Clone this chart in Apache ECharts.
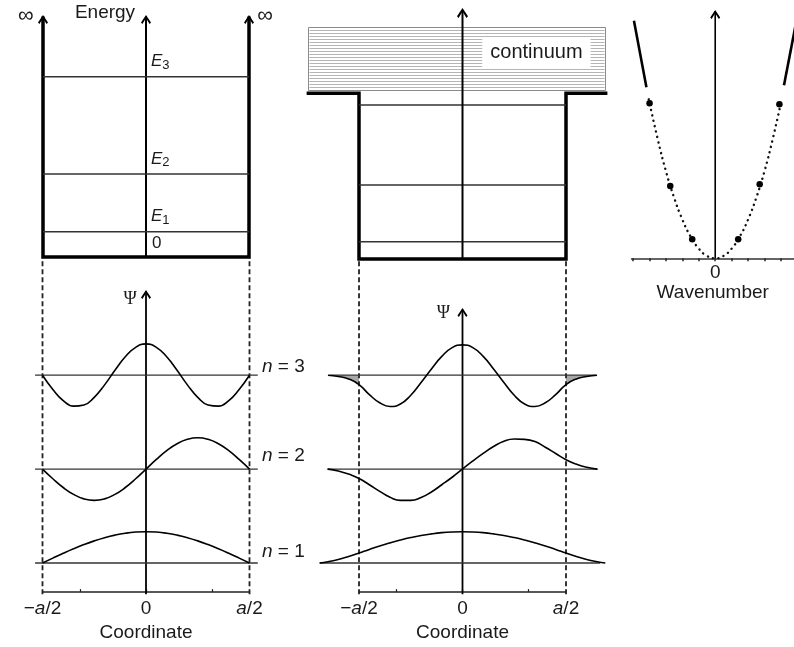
<!DOCTYPE html>
<html><head><meta charset="utf-8">
<script src="https://cdn.jsdelivr.net/npm/echarts@6/dist/echarts.min.js"></script>
<style>html,body{margin:0;padding:0;background:#fff}#c{width:794px;height:647px}</style>
</head><body><div id="c"></div>
<script>
// ================= DATA =================
// Infinite well (top left): energy levels E1..E3 in energy units
const infLevels = [1.01, 3.32, 7.21];
const infLevelNames = ['1', '2', '3'];
const infWallTop = 9.62;
// Finite well (top middle)
const finLevels = [0.69, 2.96, 6.16];
const finRim = 6.63;
const finLedges = [-0.753, 0.70];
const continuumBand = [-0.746, 0.688, 6.76, 9.28]; // x0, x1, y0, y1
const continuumText = 'continuum';
// Dispersion (top right): wavenumber (tick units) vs energy
const dispK = [-4.05, -3.5, -3, -2.5, -2, -1.5, -1, -0.5, 0, 0.5, 1, 1.5, 2, 2.5, 3, 3.5, 4.05];
const dispE = [15.9, 11.9, 8.7, 6.05, 3.87, 2.18, 0.97, 0.24, 0, 0.24, 0.97, 2.18, 3.87, 6.05, 8.7, 11.9, 15.9];
const dispBigK = [-4.0, -2.74, -1.4, 1.4, 2.71, 3.91];
const dispBigE = [15.5, 7.23, 1.9, 1.9, 7.4, 15.4];
const dispSolidLeftK = [-4.95, -4.19];
const dispSolidLeftE = [23.76, 17.1];
const dispSolidRightK = [4.19, 4.95];
const dispSolidRightE = [17.3, 23.76];
const dispTicks = [-5, -4, -3, -2, -1, 0, 1, 2, 3, 4];
const dispLabels = [0];
// Wavefunctions, infinite well (bottom left)
const xInf = [-0.5, -0.45, -0.4, -0.35, -0.3, -0.25, -0.2, -0.15, -0.1, -0.05, 0, 0.05, 0.1, 0.15, 0.2, 0.25, 0.3, 0.35, 0.4, 0.45, 0.5];
const psiInf1 = [0, 0.156, 0.309, 0.454, 0.588, 0.707, 0.809, 0.891, 0.951, 0.988, 1, 0.988, 0.951, 0.891, 0.809, 0.707, 0.588, 0.454, 0.309, 0.156, 0];
const psiInf2 = [0, -0.309, -0.588, -0.809, -0.951, -1, -0.951, -0.809, -0.588, -0.309, 0, 0.309, 0.588, 0.809, 0.951, 1, 0.951, 0.809, 0.588, 0.309, 0];
const psiInf3 = [0, -0.454, -0.809, -0.988, -0.951, -0.707, -0.309, 0.156, 0.588, 0.891, 1, 0.891, 0.588, 0.156, -0.309, -0.707, -0.951, -0.988, -0.809, -0.454, 0];
const infBaselines = [[-0.536, 0.54], [-0.536, 0.54], [-0.536, 0.54]];
// Wavefunctions, finite well (bottom middle)
const xFin = [-0.69, -0.65, -0.6, -0.55, -0.5, -0.45, -0.4, -0.35, -0.3, -0.25, -0.2, -0.15, -0.1, -0.05, 0, 0.05, 0.1, 0.15, 0.2, 0.25, 0.3, 0.35, 0.4, 0.45, 0.5, 0.55, 0.6, 0.65, 0.69];
const psiFin1 = [0, 0.04, 0.11, 0.21, 0.32, 0.435, 0.544, 0.643, 0.733, 0.812, 0.878, 0.93, 0.969, 0.992, 1, 0.992, 0.969, 0.93, 0.878, 0.812, 0.733, 0.643, 0.544, 0.435, 0.32, 0.21, 0.11, 0.04, 0];
const psiFin2 = [null, 0, -0.06, -0.16, -0.3, -0.5, -0.71, -0.9, -1.0, -1.0, -0.91, -0.73, -0.5, -0.26, 0, 0.26, 0.5, 0.72, 0.89, 0.96, 0.95, 0.88, 0.7, 0.5, 0.3, 0.16, 0.06, 0, null];
const psiFin3 = [null, 0, -0.04, -0.12, -0.3, -0.62, -0.88, -1.0, -0.92, -0.64, -0.23, 0.2, 0.6, 0.88, 0.97, 0.88, 0.6, 0.2, -0.23, -0.64, -0.92, -1.0, -0.88, -0.62, -0.3, -0.12, -0.04, 0, null];
const finBaselines = [[-0.69, 0.664], [-0.655, 0.655], [-0.64, 0.645]];
const stateOffsets = [0, 3, 6];
const stateNames = ['1', '2', '3'];
const coordTicks = [-0.32, 0, 0.32];
const coordLabelVals = [-0.5, 0, 0.5];
const coordLabels = ['−a/2', '0', 'a/2'];

// ================= CHART =================
const FONT = 'Liberation Sans, Arial, sans-serif';
const TXT = '#1a1a1a';
const CHEV = 'path://M5,0 L10,7.5 L8.6,9 L5,3.2 L1.4,9 L0,7.5 Z';
const zip = (xs, ys) => xs.map((x, i) => [x, ys[i]]);

function line(g, data, style, extra) {
  return Object.assign({
    type: 'line', xAxisIndex: g, yAxisIndex: g, data: data, symbol: 'none', silent: true, clip: false,
    lineStyle: Object.assign({ color: '#000', width: 1.5 }, style), z: 3
  }, extra || {});
}
function arrows(g, pts, size) {
  return { type: 'scatter', xAxisIndex: g, yAxisIndex: g, data: pts, symbol: CHEV, clip: false,
    symbolSize: size || [10, 9], symbolOffset: [0, '50%'], itemStyle: { color: '#000', opacity: 1 }, silent: true, z: 6 };
}
function texts(g, items) {
  return { type: 'scatter', xAxisIndex: g, yAxisIndex: g, symbolSize: 0, silent: true, z: 8, clip: false,
    itemStyle: { opacity: 1 },
    data: items.map(it => ({ value: it.at, label: Object.assign({ show: true, position: 'inside',
      formatter: it.text, color: TXT, fontFamily: FONT, fontSize: 19 }, it.label || {}) })) };
}

const series = [];
// ---- G0 infinite well ----
series.push(line(0, [[-0.5, infWallTop], [-0.5, 0], [0.5, 0], [0.5, infWallTop]], { width: 3.5, join: 'miter' }));
series.push(line(0, [[0, 0], [0, infWallTop]], { width: 2 }));
series.push(arrows(0, [[-0.5, 9.68], [0, 9.68], [0.5, 9.68]]));
infLevels.forEach(E => series.push(line(0, [[-0.5, E], [0.5, E]], { color: '#333', width: 1.3 })));
series.push(texts(0, [
  { at: [-0.199, 9.78], text: 'Energy' },
  { at: [-0.583, 9.65], text: '∞', label: { fontSize: 22 } },
  { at: [0.578, 9.65], text: '∞', label: { fontSize: 22 } },
  { at: [0, 0], text: '0', label: { position: [6, -22], fontSize: 17 } }
].concat(infLevels.map((E, i) => ({
  at: [0, E], text: '{e|E}{s|' + infLevelNames[i] + '}',
  label: { position: [5, -25], rich: {
    e: { fontStyle: 'italic', fontSize: 17, lineHeight: 20, fontFamily: FONT, color: TXT },
    s: { fontSize: 13, lineHeight: 8, verticalAlign: 'bottom', fontFamily: FONT, color: TXT } } }
})))));

// ---- G1 finite well ----
series.push({
  type: 'custom', xAxisIndex: 1, yAxisIndex: 1, silent: true, z: 2,
  data: [continuumBand], encode: { x: [0, 1], y: [2, 3] },
  renderItem: (params, api) => {
    const tl = api.coord([api.value(0), api.value(3)]);
    const br = api.coord([api.value(1), api.value(2)]);
    const x0 = Math.round(tl[0]) + 0.5, y0 = Math.round(tl[1]) + 0.5;
    const x1 = Math.round(br[0]) + 0.5, y1 = Math.round(br[1]) + 0.5;
    const ch = [{ type: 'rect', shape: { x: x0, y: y0, width: x1 - x0, height: y1 - y0 },
      style: { fill: '#fff', stroke: '#8a8a8a', lineWidth: 1 } }];
    for (let y = y0 + 3; y < y1 - 1; y += 3) {
      ch.push({ type: 'line', shape: { x1: x0 + 1, y1: y, x2: x1 - 1, y2: y }, style: { stroke: '#b5b5b5', lineWidth: 1 } });
    }
    return { type: 'group', children: ch };
  }
});
series.push(line(1, [[finLedges[0], finRim], [-0.5, finRim], [-0.5, 0], [0.5, 0], [0.5, finRim], [finLedges[1], finRim]], { width: 3.5, join: 'miter' }));
finLevels.forEach(E => series.push(line(1, [[-0.5, E], [0.5, E]], { color: '#333', width: 1.3 })));
series.push(line(1, [[0, 0], [0, 9.96]], { width: 2 }, { z: 7 }));
series.push(arrows(1, [[0, 10.04]], [11, 10]));
series.push(texts(1, [
  { at: [0.357, 8.26], text: continuumText, label: { fontSize: 20, backgroundColor: '#fff', padding: [5, 8, 4, 8] } }
]));

// ---- G2 dispersion ----
series.push(line(2, [[0, 0], [0, 24.7]], { width: 1.6 }));
series.push(arrows(2, [[0, 24.83]], [10, 9]));
series.push(line(2, zip(dispK, dispE), { width: 2.4, type: [0.1, 5.4], cap: 'round', color: '#111' }, { smooth: true }));
series.push({ type: 'scatter', xAxisIndex: 2, yAxisIndex: 2, data: zip(dispBigK, dispBigE), symbol: 'circle', symbolSize: 6.5,
  itemStyle: { color: '#000', opacity: 1 }, silent: true, z: 5 });
series.push(line(2, zip(dispSolidLeftK, dispSolidLeftE), { width: 2.6 }, { clip: true }));
series.push(line(2, zip(dispSolidRightK, dispSolidRightE), { width: 2.6 }, { clip: true }));

// ---- G3 / G4 wavefunctions (wide grids); G5 / G6 coordinate axes ----
function wavePanel(g, psis, xs, baselines, arrowTop, psiAt) {
  series.push(line(g, [[-0.5, -1], [-0.5, 9.75]], { width: 1.8, type: [5, 3], color: '#222' }));
  series.push(line(g, [[0.5, -1], [0.5, 9.75]], { width: 1.8, type: [5, 3], color: '#222' }));
  series.push(line(g, [[0, -1], [0, arrowTop - 0.05]], { width: 1.8 }));
  series.push(arrows(g, [[0, arrowTop]], [10, 9]));
  stateOffsets.forEach((off, i) => {
    series.push(line(g, [[baselines[i][0], off], [baselines[i][1], off]], { color: '#333', width: 1.3 }));
    const pts = [];
    xs.forEach((x, j) => { if (psis[i][j] !== null) pts.push([x, off + psis[i][j]]); });
    series.push(line(g, pts, { width: 1.6 }, { smooth: true, z: 4 }));
  });
  series.push(texts(g, [{ at: psiAt, text: 'Ψ', label: { fontFamily: 'Liberation Serif, serif', fontSize: 18 } }]));
}
wavePanel(3, [psiInf1, psiInf2, psiInf3], xInf, infBaselines, 8.72, [-0.077, 8.43]);
wavePanel(4, [psiFin1, psiFin2, psiFin3], xFin, finBaselines, 8.15, [-0.092, 7.99]);
// hatched tails of n = 3 in finite well
[[0, 4], [24, 28]].forEach(r => {
  const pts = [];
  for (let j = r[0]; j <= r[1]; j++) if (psiFin3[j] !== null) pts.push([xFin[j], stateOffsets[2] + psiFin3[j]]);
  series.push(line(4, pts, { width: 0 }, { smooth: true, z: 2,
    areaStyle: { color: '#a8a8a8', origin: stateOffsets[2], opacity: 1 } }));
});
// n labels
series.push(texts(3, stateOffsets.map((off, i) => ({
  at: [0.56, [0.36, 3.42, 6.27][i]], text: '{i|n} = ' + stateNames[i],
  label: { position: 'right', distance: 0, rich: { i: { fontStyle: 'italic', fontSize: 19, fontFamily: FONT, color: TXT } } }
}))));
// dummy series so axis grids are used
[5, 6].forEach(g => series.push({ type: 'line', xAxisIndex: g, yAxisIndex: g, data: [], silent: true }));

function coordAxis(g, nameGap) {
  return { type: 'value', gridIndex: g, min: -0.5, max: 0.5,
    axisLine: { onZero: false, lineStyle: { color: '#222', width: 1.5 } },
    axisTick: { show: true, customValues: coordTicks, inside: true, length: 3, lineStyle: { color: '#222', width: 1.2 } },
    axisLabel: { customValues: coordLabelVals, margin: 7, fontSize: 19, fontFamily: FONT, color: TXT,
      formatter: v => { const i = coordLabelVals.indexOf(v); return i < 0 ? '' : coordLabels[i].replace('a', '{i|a}'); },
      rich: { i: { fontStyle: 'italic', fontSize: 19, fontFamily: FONT, color: TXT } } },
    splitLine: { show: false },
    name: 'Coordinate', nameLocation: 'middle', nameGap: nameGap,
    nameTextStyle: { fontSize: 19, fontFamily: FONT, color: TXT } };
}
const hiddenX = (g, min, max) => ({ type: 'value', gridIndex: g, min, max, show: false });
const hiddenY = (g, min, max) => ({ type: 'value', gridIndex: g, min, max, show: false });

const option = {
  animation: false,
  backgroundColor: '#fff',
  grid: [
    { left: 43, width: 206, top: 7, height: 250 },
    { left: 296.9, width: 331.2, top: 4, height: 255 },
    { left: 631.5, width: 165.3, top: 8.3, height: 250 },
    { left: 21.8, width: 289.8, top: 250, height: 344.3 },
    { left: 307.25, width: 310.5, top: 250, height: 344.3 },
    { left: 42.5, width: 207, top: 250, height: 344.3 },
    { left: 359, width: 207, top: 250, height: 344.3 }
  ],
  xAxis: [
    hiddenX(0, -0.5, 0.5),
    hiddenX(1, -0.8, 0.8),
    { type: 'value', gridIndex: 2, min: -5.1, max: 4.8,
      axisLine: { onZero: false, lineStyle: { color: '#333', width: 1.5 } },
      axisTick: { show: true, customValues: dispTicks, length: 3, lineStyle: { color: '#222', width: 1.5 } },
      axisLabel: { customValues: dispLabels, margin: 5, fontSize: 19, fontFamily: FONT, color: TXT },
      splitLine: { show: false },
      name: 'Wavenumber', nameLocation: 'middle', nameGap: 25,
      nameTextStyle: { fontSize: 19, fontFamily: FONT, color: TXT } },
    hiddenX(3, -0.6, 0.8),
    hiddenX(4, -0.75, 0.75),
    coordAxis(5, 24),
    coordAxis(6, 27)
  ],
  yAxis: [
    hiddenY(0, 0, 10), hiddenY(1, 0, 10.2), hiddenY(2, 0, 25), hiddenY(3, -1, 10), hiddenY(4, -1, 10),
    hiddenY(5, -1, 10), hiddenY(6, -1, 10)
  ],
  series: series
};
const chart = echarts.init(document.getElementById('c'));
chart.setOption(option);
</script></body></html>
